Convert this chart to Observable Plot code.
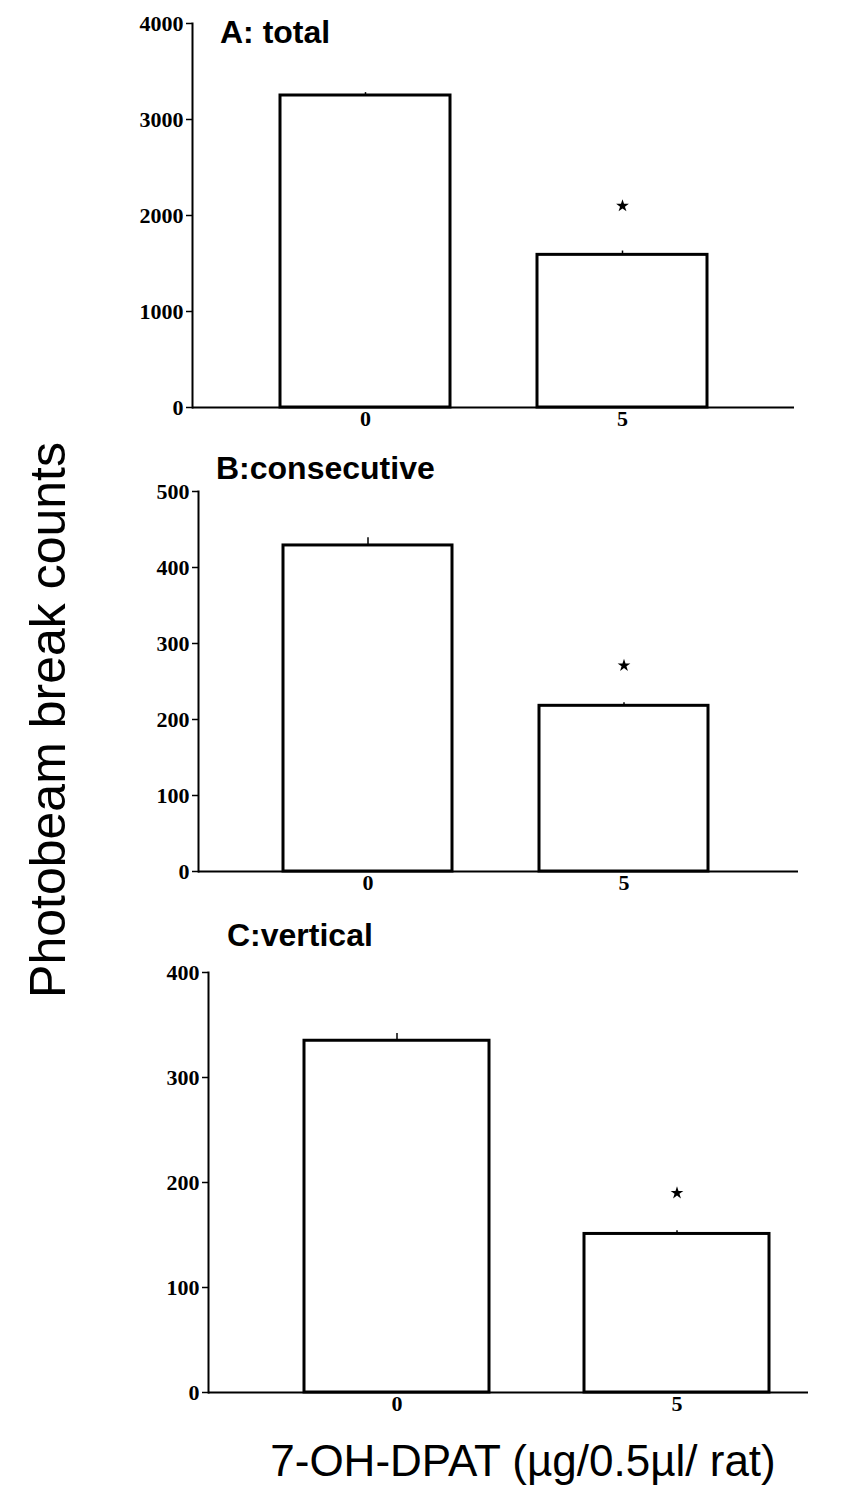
<!DOCTYPE html>
<html><head><meta charset="utf-8">
<script src="https://cdn.jsdelivr.net/npm/d3@7"></script>
<script src="https://cdn.jsdelivr.net/npm/@observablehq/plot@0.6"></script>
<style>
html,body{margin:0;padding:0;background:#fff;}
#page{position:relative;width:850px;height:1495px;overflow:hidden;background:#fff;}
.panel{position:absolute;left:0;}
.ptitle{position:absolute;font-family:"Liberation Sans",Arial,sans-serif;font-weight:bold;font-size:32px;line-height:1;color:#000;white-space:nowrap;}
#ylab{position:absolute;font-family:"Liberation Sans",Arial,sans-serif;font-size:50px;line-height:1;left:48px;top:720px;transform:translate(-50%,-50%) rotate(-90deg);white-space:nowrap;color:#000;}
#xlab{position:absolute;font-family:"Liberation Sans",Arial,sans-serif;font-size:44px;line-height:1;left:523px;top:1461px;transform:translate(-50%,-50%);white-space:nowrap;color:#000;}
</style>
</head><body>
<div id="page"></div>
<script>
// ---- data ----
const doses = ["0", "5"];
const panelTitles = ["A: total", "B:consecutive", "C:vertical"];
const totalMean = [3250, 1590];
const totalSem = [30, 40];
const totalStar = [null, 2100];
const consecMean = [429, 218];
const consecSem = [10, 4];
const consecStar = [null, 271];
const vertMean = [335, 151];
const vertSem = [7, 3];
const vertStar = [null, 190];
const totalTicks = [0, 1000, 2000, 3000, 4000];
const consecTicks = [0, 100, 200, 300, 400, 500];
const vertTicks = [0, 100, 200, 300, 400];
const yLabel = "Photobeam break counts";
const xLabel = "7-OH-DPAT (\u00b5g/0.5\u00b5l/ rat)";

// ---- layout ----
const panels = [
  {title: panelTitles[0], mean: totalMean, sem: totalSem, star: totalStar, ticks: totalTicks,
   top: 0, height: 442, mt: 23, mb: 35, ml: 192, mr: 56, xr: [279, 707], titleLeft: 220, titleTop: 16},
  {title: panelTitles[1], mean: consecMean, sem: consecSem, star: consecStar, ticks: consecTicks,
   top: 445, height: 461, mt: 46, mb: 35, ml: 198, mr: 52, xr: [283, 708], titleLeft: 216, titleTop: 452},
  {title: panelTitles[2], mean: vertMean, sem: vertSem, star: vertStar, ticks: vertTicks,
   top: 915, height: 512, mt: 57, mb: 35, ml: 208, mr: 42, xr: [303, 769], titleLeft: 227, titleTop: 919}
];

const page = document.getElementById("page");

for (const p of panels) {
  const data = doses.map((d, i) => ({dose: d, mean: p.mean[i], sem: p.sem[i], star: p.star[i]}));
  const chart = Plot.plot({
    width: 850,
    height: p.height,
    marginTop: p.mt,
    marginBottom: p.mb,
    marginLeft: p.ml,
    marginRight: p.mr,
    style: {background: "transparent", overflow: "visible"},
    x: {type: "band", domain: doses, range: p.xr, paddingInner: 0.34, paddingOuter: 0, label: null},
    y: {domain: [0, p.ticks[p.ticks.length - 1]], label: null},
    marks: [
      Plot.barY(data, {x: "dose", y: "mean", fill: "white", stroke: "black", strokeWidth: 3}),
      Plot.ruleX(data, {x: "dose", y1: "mean", y2: d => d.mean + d.sem, stroke: "black", strokeWidth: 1.5}),
      Plot.dot(data.filter(d => d.star != null), {x: "dose", y: "star", symbol: "star", fill: "black", r: 4}),
      Plot.ruleY([0], {stroke: "black", strokeWidth: 2}),
      Plot.frame({anchor: "left", stroke: "black", strokeWidth: 2}),
      Plot.axisY({ticks: p.ticks, tickFormat: d => String(d), tickSize: 6, tickPadding: 3,
        fontSize: 22, fontWeight: "bold", fontFamily: "Liberation Serif, Times New Roman, serif",
        stroke: "black", strokeWidth: 1.5, color: "black", label: null}),
      Plot.axisX({tickSize: 0, tickPadding: 3,
        fontSize: 22, fontWeight: "bold", fontFamily: "Liberation Serif, Times New Roman, serif",
        color: "black", label: null})
    ]
  });
  const wrap = document.createElement("div");
  wrap.className = "panel";
  wrap.style.top = p.top + "px";
  wrap.appendChild(chart);
  page.appendChild(wrap);

  const t = document.createElement("div");
  t.className = "ptitle";
  t.style.left = p.titleLeft + "px";
  t.style.top = p.titleTop + "px";
  t.textContent = p.title;
  page.appendChild(t);
}

const yl = document.createElement("div");
yl.id = "ylab";
yl.textContent = yLabel;
page.appendChild(yl);

const xl = document.createElement("div");
xl.id = "xlab";
xl.textContent = xLabel;
page.appendChild(xl);
</script>
</body></html>
